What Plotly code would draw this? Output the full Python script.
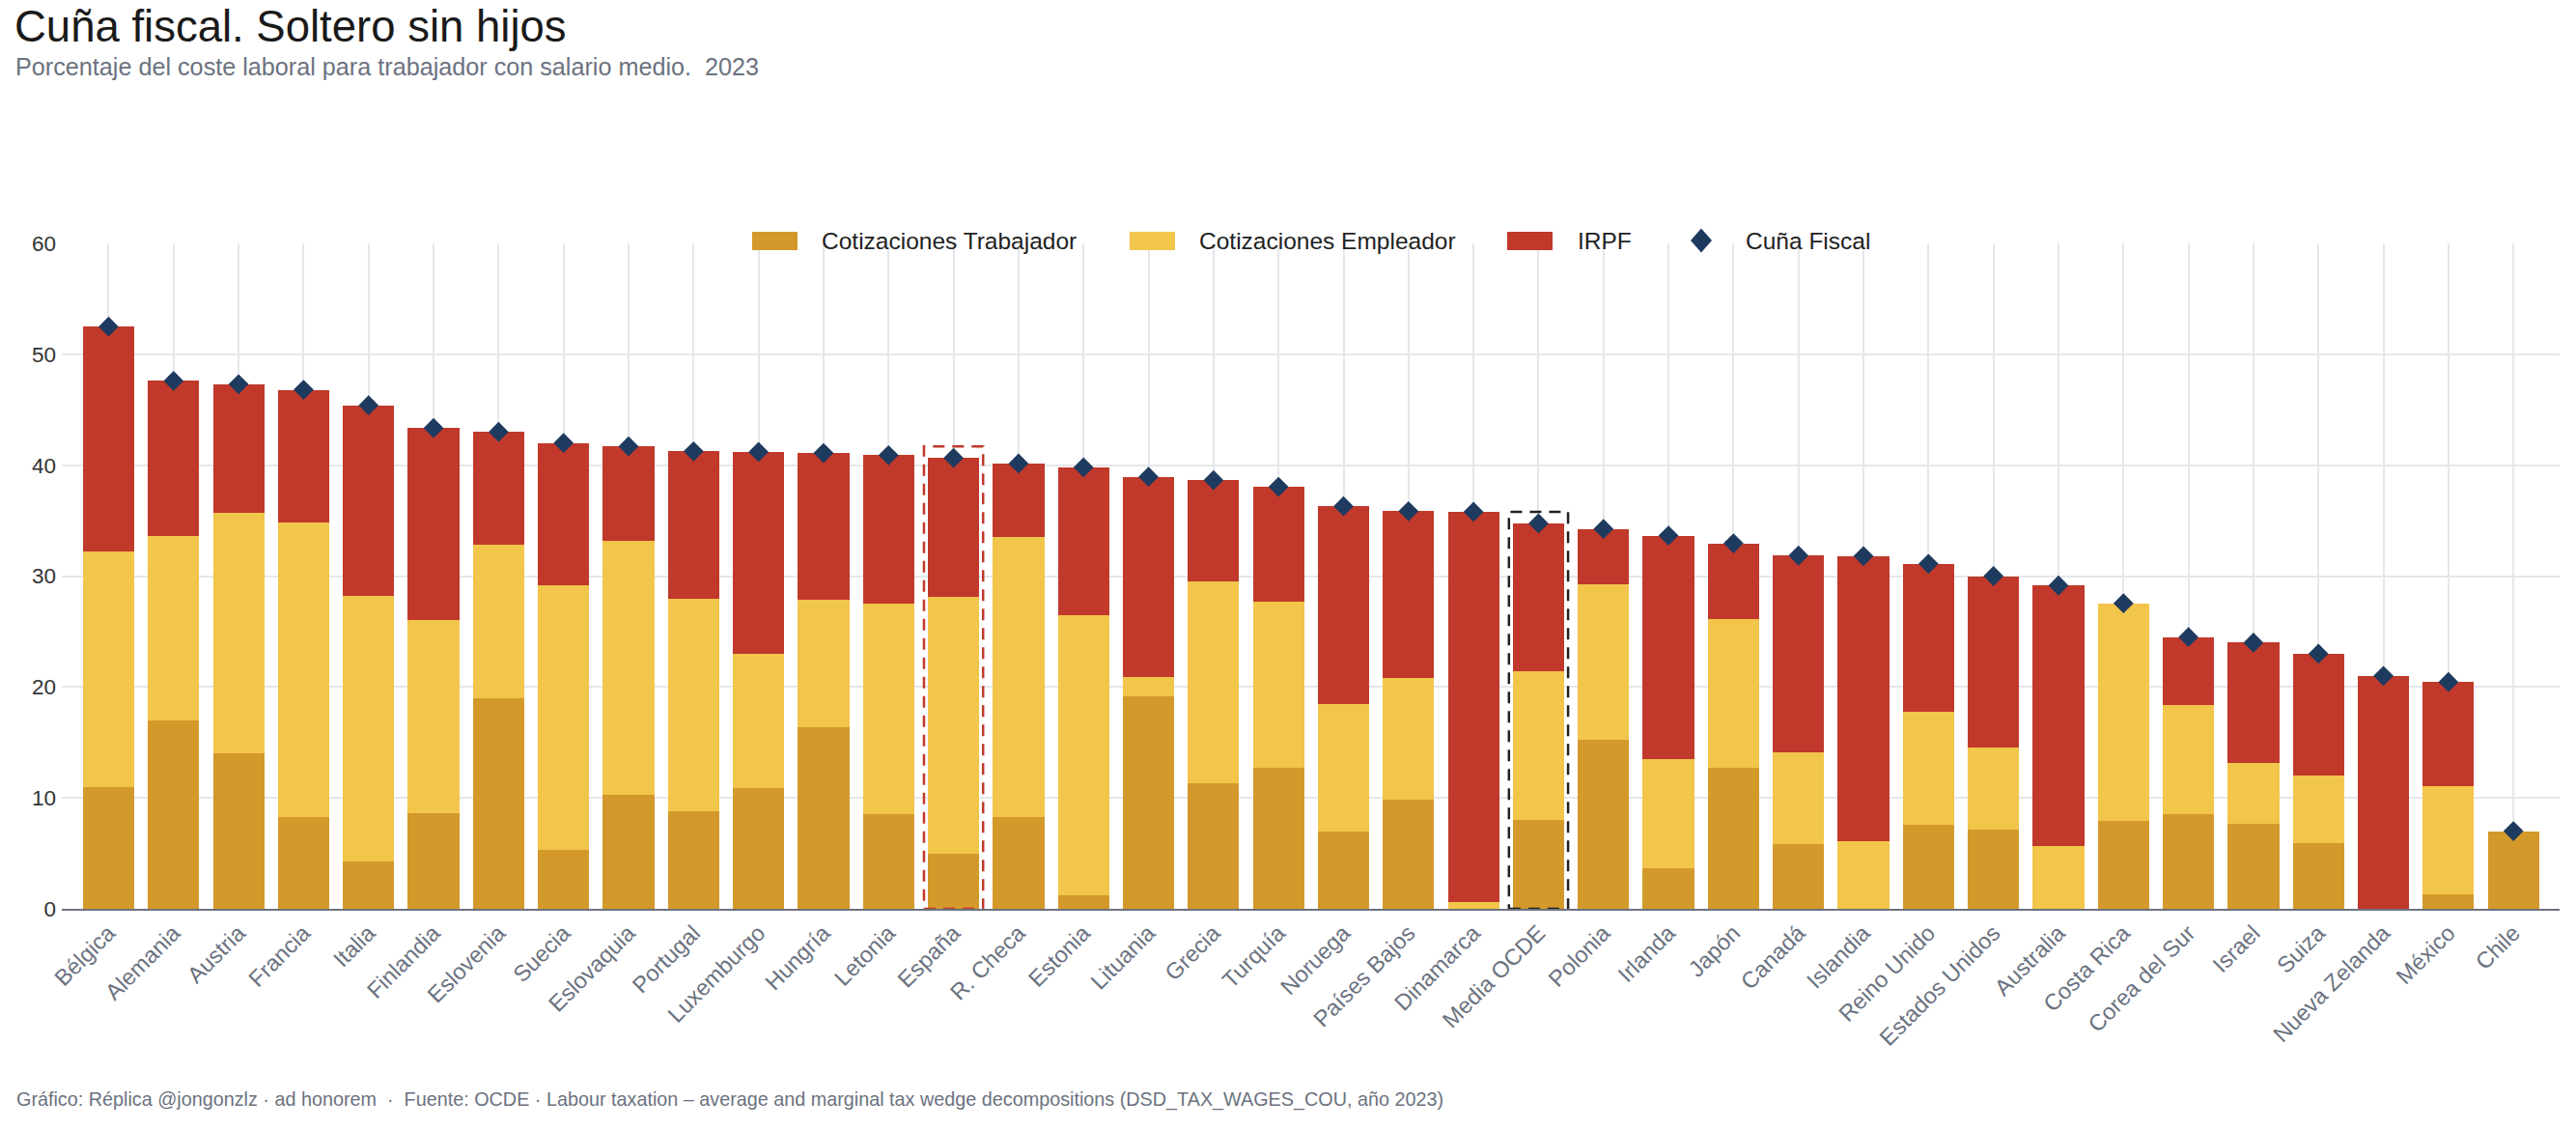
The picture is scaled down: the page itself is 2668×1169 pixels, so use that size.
import plotly.graph_objects as go

# ---------------- data ----------------
paises = ["Bélgica", "Alemania", "Austria", "Francia", "Italia", "Finlandia", "Eslovenia",
          "Suecia", "Eslovaquia", "Portugal", "Luxemburgo", "Hungría", "Letonia", "España",
          "R. Checa", "Estonia", "Lituania", "Grecia", "Turquía", "Noruega", "Países Bajos",
          "Dinamarca", "Media OCDE", "Polonia", "Irlanda", "Japón", "Canadá", "Islandia",
          "Reino Unido", "Estados Unidos", "Australia", "Costa Rica", "Corea del Sur",
          "Israel", "Suiza", "Nueva Zelanda", "México", "Chile"]

cot_trabajador = [11.0, 17.0, 14.05, 8.3, 4.25, 8.65, 18.95, 5.3, 10.3, 8.8, 10.85, 16.35,
                  8.5, 4.95, 8.25, 1.2, 19.15, 11.35, 12.75, 7.0, 9.85, 0.0, 8.05, 15.25,
                  3.65, 12.7, 5.8, 0.0, 7.6, 7.1, 0.0, 7.9, 8.5, 7.7, 5.95, 0.0, 1.3, 7.0]

cot_empleador = [21.25, 16.6, 21.65, 26.5, 24.0, 17.4, 13.9, 23.9, 22.9, 19.15, 12.15, 11.5,
                 19.05, 23.2, 25.25, 25.25, 1.75, 18.15, 14.9, 11.45, 10.95, 0.65, 13.35,
                 14.05, 9.85, 13.4, 8.35, 6.1, 10.15, 7.45, 5.65, 19.65, 9.9, 5.45, 6.1,
                 0.0, 9.8, 0.0]

irpf = [20.25, 14.0, 11.6, 12.0, 17.15, 17.3, 10.15, 12.8, 8.5, 13.3, 18.2, 13.25, 13.35,
        12.5, 6.65, 13.35, 18.05, 9.15, 10.4, 17.85, 15.05, 35.15, 13.35, 4.95, 20.15,
        6.85, 17.7, 25.7, 13.35, 15.45, 23.5, 0.0, 6.1, 10.85, 10.95, 21.0, 9.35, 0.0]

cuna_fiscal = [52.5, 47.6, 47.3, 46.8, 45.4, 43.35, 43.0, 42.0, 41.7, 41.25, 41.2, 41.1,
               40.9, 40.65, 40.15, 39.8, 38.95, 38.65, 38.05, 36.3, 35.85, 35.8, 34.75,
               34.25, 33.65, 32.95, 31.85, 31.8, 31.1, 30.0, 29.15, 27.55, 24.5, 24.0,
               23.0, 21.0, 20.45, 7.0]

destacados = {"España": "#C0392B", "Media OCDE": "#222222"}

series_nombres = ["Cotizaciones Trabajador", "Cotizaciones Empleador", "IRPF", "Cuña Fiscal"]
y_ticks = [0, 10, 20, 30, 40, 50, 60]

TITULO = "Cuña fiscal. Soltero sin hijos"
SUBTITULO = "Porcentaje del coste laboral para trabajador con salario medio.  2023"
PIE = ("Gráfico: Réplica @jongonzlz · ad honorem  ·  Fuente: OCDE · Labour taxation – "
       "average and marginal tax wedge decompositions (DSD_TAX_WAGES_COU, año 2023)")

# ---------------- style ----------------
C_TRAB = "#D4992B"
C_EMP = "#F2C54B"
C_IRPF = "#C0392B"
C_CUNA = "#1F3A5F"
FONT = "Arial, Liberation Sans, sans-serif"

W, H = 2668, 1169
ML, MR, MT, MB = 64, 17, 252, 228
PW, PH = W - ML - MR, H - MT - MB


def px_x(X):
    return (X - ML) / PW


def px_y(Y):
    return (H - MB - Y) / PH


fig = go.Figure()
fig.add_trace(go.Bar(x=paises, y=cot_trabajador, name=series_nombres[0],
                     marker=dict(color=C_TRAB, line=dict(width=0)), showlegend=False))
fig.add_trace(go.Bar(x=paises, y=cot_empleador, name=series_nombres[1],
                     marker=dict(color=C_EMP, line=dict(width=0)), showlegend=False))
fig.add_trace(go.Bar(x=paises, y=irpf, name=series_nombres[2],
                     marker=dict(color=C_IRPF, line=dict(width=0)), showlegend=False))
fig.add_trace(go.Scatter(x=paises, y=cuna_fiscal, name=series_nombres[3], mode="markers",
                         marker=dict(symbol="diamond", size=16, color=C_CUNA,
                                     line=dict(width=0)), showlegend=False))

# dashed highlight boxes (from data)
for nombre, col in destacados.items():
    i = paises.index(nombre)
    fig.add_shape(type="rect", xref="x", yref="y", x0=i - 0.455, x1=i + 0.455,
                  y0=0, y1=cuna_fiscal[i] + 1.05,
                  line=dict(color=col, width=2.5, dash="12px,8px"),
                  fillcolor="rgba(0,0,0,0)", layer="above")

# custom legend
leg_y0, leg_y1 = px_y(259), px_y(240)
leg_cy = px_y(249)
swatches = [(779, 826, 849, C_TRAB), (1170, 1217, 1240, C_EMP), (1561, 1608, 1632, C_IRPF)]
for k, (xa, xb, xt, col) in enumerate(swatches):
    fig.add_shape(type="rect", xref="paper", yref="paper", x0=px_x(xa), x1=px_x(xb),
                  y0=leg_y0, y1=leg_y1, fillcolor=col, line=dict(width=0), layer="above")
    fig.add_annotation(x=px_x(xt), y=leg_cy, xref="paper", yref="paper", text=series_nombres[k],
                       showarrow=False, xanchor="left", yanchor="middle",
                       font=dict(family=FONT, size=24.5, color="#222222"))
dcx, dcy, dw, dh = 1762, 249, 11, 12.5
path = "M {} {} L {} {} L {} {} L {} {} Z".format(
    px_x(dcx), px_y(dcy - dh), px_x(dcx + dw), px_y(dcy), px_x(dcx), px_y(dcy + dh),
    px_x(dcx - dw), px_y(dcy))
fig.add_shape(type="path", xref="paper", yref="paper", path=path, fillcolor=C_CUNA,
              line=dict(width=0), layer="above")
fig.add_annotation(x=px_x(1806), y=leg_cy, xref="paper", yref="paper", text=series_nombres[3],
                   showarrow=False, xanchor="left", yanchor="middle",
                   font=dict(family=FONT, size=24.5, color="#222222"))

# title, subtitle, footer
fig.add_annotation(x=px_x(14), y=px_y(28), xref="paper", yref="paper", text=TITULO,
                   showarrow=False, xanchor="left", yanchor="middle", borderpad=0,
                   font=dict(family=FONT, size=45.5, color="#1a1a1a"))
fig.add_annotation(x=px_x(15), y=px_y(69), xref="paper", yref="paper", text=SUBTITULO,
                   showarrow=False, xanchor="left", yanchor="middle", borderpad=0,
                   font=dict(family=FONT, size=25.2, color="#6b7280"))
fig.add_annotation(x=px_x(15), y=px_y(1138), xref="paper", yref="paper", text=PIE,
                   showarrow=False, xanchor="left", yanchor="middle",
                   font=dict(family=FONT, size=19.8, color="#6b7280"))

fig.update_layout(
    width=W, height=H,
    margin=dict(l=ML, r=MR, t=MT, b=MB, autoexpand=False),
    paper_bgcolor="white", plot_bgcolor="white",
    barmode="stack", bargap=0.21,
    showlegend=False,
    font=dict(family=FONT, size=22, color="#333333"),
    xaxis=dict(type="category", range=[-0.72, len(paises) - 1 + 0.71],
               showgrid=True, gridcolor="#e5e7eb", gridwidth=1.5,
               showline=True, linecolor="#6b7280", linewidth=2,
               tickangle=-45, ticks="", tickfont=dict(size=23.5, color="#6b7280"),
               fixedrange=True),
    yaxis=dict(range=[0, 60], tickvals=y_ticks, showgrid=True, gridcolor="#e5e7eb",
               gridwidth=1.5, zeroline=False, showline=False, ticks="",
               ticklabelstandoff=5,
               tickfont=dict(size=22.5, color="#333333"), fixedrange=True),
)

fig.write_html("out.html")
